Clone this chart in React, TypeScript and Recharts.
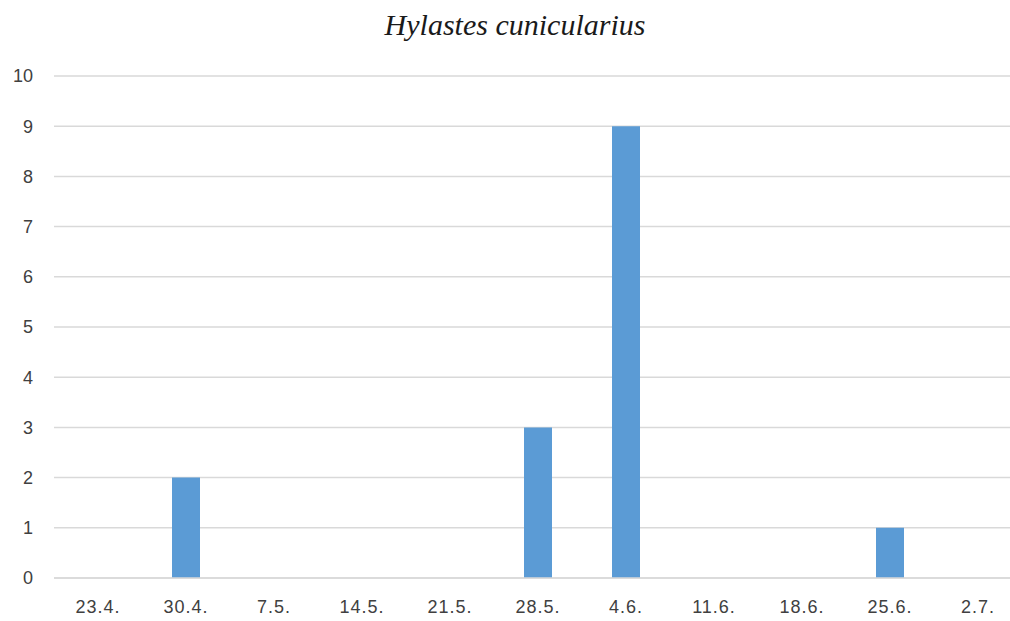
import React from 'react';
import { BarChart, Bar, XAxis, YAxis, CartesianGrid } from 'recharts';

const dates = ['23.4.', '30.4.', '7.5.', '14.5.', '21.5.', '28.5.', '4.6.', '11.6.', '18.6.', '25.6.', '2.7.'];
const counts = [0, 2, 0, 0, 0, 3, 9, 0, 0, 1, 0];
const yTicks = [0, 1, 2, 3, 4, 5, 6, 7, 8, 9, 10];

const data = dates.map((d, i) => ({ date: d, count: counts[i] }));

const tickFont = { fontFamily: 'Liberation Sans, Arial, sans-serif', fontSize: 18, fill: '#404040' };

export default function App() {
  return (
    <div style={{ position: 'absolute', left: 0, top: 0, width: 1010, height: 621, overflow: 'hidden', background: '#fff' }}>
      <div
        style={{
          position: 'absolute',
          left: 0,
          width: 1030,
          top: 8,
          textAlign: 'center',
          fontFamily: 'Liberation Serif, serif',
          fontStyle: 'italic',
          fontSize: 30,
          color: '#1a1a1a',
          lineHeight: '34px',
        }}
      >
        Hylastes cunicularius
      </div>
      <BarChart
        width={1022}
        height={621}
        data={data}
        margin={{ top: 76, right: 0, bottom: 0, left: 0 }}
        barCategoryGap={0}
      >
        <CartesianGrid vertical={false} stroke="#d9d9d9" strokeWidth={1.5} />
        <XAxis
          dataKey="date"
          height={43}
          tickLine={false}
          axisLine={{ stroke: '#d9d9d9', strokeWidth: 1.5 }}
          tickSize={0}
          tickMargin={22}
          tick={{ ...tickFont, letterSpacing: 1 }}
          interval={0}
        />
        <YAxis
          width={54}
          domain={[0, 10]}
          ticks={yTicks}
          axisLine={false}
          tickLine={false}
          tickSize={0}
          tickMargin={21}
          tick={tickFont}
          interval={0}
        />
        <Bar dataKey="count" fill="#5b9bd5" barSize={28} isAnimationActive={false} />
      </BarChart>
    </div>
  );
}
